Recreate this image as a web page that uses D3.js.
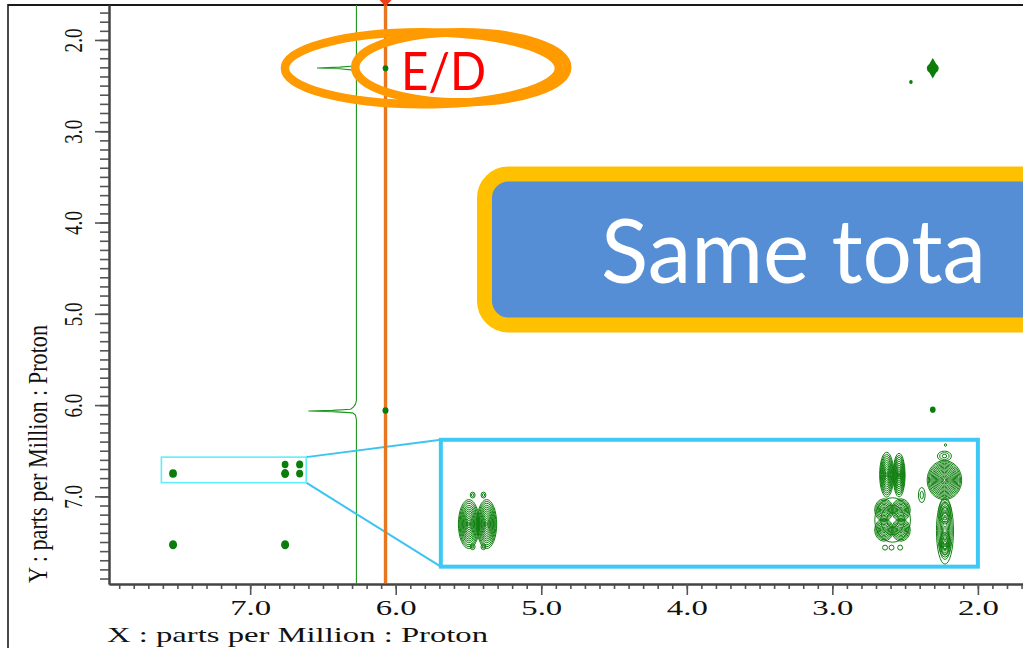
<!DOCTYPE html>
<html><head><meta charset="utf-8">
<script src="https://cdn.jsdelivr.net/npm/d3@7"></script>
<style>html,body{margin:0;padding:0;background:#fff;overflow:hidden}</style>
</head><body><svg id="c" width="1023" height="648"></svg>
<script>
// ---------------- data ----------------
const xDomain = [7.97, 1.69];          // ppm, left -> right
const yDomain = [1.617, 7.96];         // ppm, top -> bottom
const majorTicks = [7.0, 6.0, 5.0, 4.0, 3.0, 2.0];
const tickLabels = ["7.0", "6.0", "5.0", "4.0", "3.0", "2.0"];
const minorTicks = d3.range(17, 80).map(d => d / 10);
const xTitle = "X : parts per Million : Proton";
const yTitle = "Y : parts per Million : Proton";

// 2D peaks in main view: [x ppm, y ppm, intensity]
const mainPeaks = [
  [6.07, 2.31, 0.9], [6.07, 6.06, 1.0], [2.46, 2.46, 0.35], [2.31, 6.05, 0.9],
  [7.53, 6.75, 1.7], [6.76, 6.65, 1.3], [6.76, 6.75, 1.8], [6.66, 6.65, 1.4], [6.66, 6.75, 1.4],
  [7.53, 7.53, 1.8], [6.76, 7.53, 1.8]
];
const strongPeaks = [[2.31, 2.31, 4]];

// 1D projection trace: [y ppm, intensity]
const projection = [
  [1.617, 0], [2.20, 0], [2.26, 0.015], [2.285, 0.06], [2.298, 0.35], [2.307, 0.82],
  [2.316, 0.35], [2.33, 0.06], [2.36, 0.015], [2.42, 0],
  [5.95, 0], [5.99, 0.02], [6.02, 0.06], [6.045, 0.12], [6.058, 0.5], [6.065, 1.0],
  [6.072, 0.5], [6.085, 0.08], [6.11, 0.02], [6.16, 0], [7.96, 0]
];
const projectionBase = 6.27;           // ppm column of the projection baseline
const cursorPpm = 6.07;

// zoom region (source) and inset placement, in ppm
const zoomSrcX = [7.61, 6.615], zoomSrcY = [6.57, 6.85];
const insetX = [5.69, 2.0], insetY = [6.38, 7.77];

// contour lobes inside the zoom: [x ppm, y ppm, half-width ppm, half-height ppm, levels]
const lobes = [
  [7.558, 6.756, 0.0195, 0.054, 13], [7.525, 6.756, 0.0185, 0.054, 13],
  [7.551, 6.692, 0.0045, 0.0065, 2], [7.531, 6.692, 0.0045, 0.0065, 2],
  [7.551, 6.806, 0.0045, 0.0065, 2], [7.531, 6.806, 0.0045, 0.0065, 2],
  [6.784, 6.647, 0.013, 0.0495, 11], [6.761, 6.648, 0.0112, 0.048, 11],
  [6.773, 6.747, 0.0330, 0.0490, 3],
  [6.789, 6.725, 0.0172, 0.0248, 8], [6.7575, 6.725, 0.0172, 0.0248, 8],
  [6.789, 6.769, 0.0172, 0.0248, 8], [6.7575, 6.769, 0.0172, 0.0248, 8],
  [6.787, 6.808, 0.0046, 0.0055, 1], [6.775, 6.808, 0.0046, 0.0055, 1], [6.759, 6.808, 0.0046, 0.0055, 1],
  [6.719, 6.692, 0.0062, 0.0166, 2],
  [6.677, 6.659, 0.0320, 0.043, 15], [6.677, 6.606, 0.013, 0.011, 3],
  [6.676, 6.771, 0.0158, 0.0735, 7], [6.676, 6.729, 0.0115, 0.0270, 6], [6.676, 6.802, 0.0100, 0.0270, 6],
  [6.675, 6.5815, 0.002, 0.0028, 1]
];

const labelED = "E/D";
const calloutText = "Same tota";

// ---------------- drawing ----------------
const svg = d3.select("#c");
const plot = {left: 109, top: 5, right: 1023, bottom: 584};
const x = d3.scaleLinear().domain(xDomain).range([plot.left, plot.right]);
const y = d3.scaleLinear().domain(yDomain).range([plot.top, plot.bottom]);
const serif = "'Liberation Serif','Times New Roman',serif";
const sans = "Lato,'Open Sans',sans-serif";

// frame
svg.append("line").attr("x1", 8).attr("y1", 5).attr("x2", 1023).attr("y2", 5)
  .attr("stroke", "#1a1a1a").attr("stroke-width", 2);
svg.append("line").attr("x1", 8).attr("y1", 4).attr("x2", 8).attr("y2", 648)
  .attr("stroke", "#1a1a1a").attr("stroke-width", 1.6);

// x axis
const gx = svg.append("g").attr("transform", `translate(0,${plot.bottom})`);
gx.append("g").call(d3.axisBottom(x).tickValues(minorTicks).tickSize(5).tickSizeOuter(0).tickFormat(""));
gx.append("g").call(d3.axisBottom(x).tickValues(majorTicks).tickSize(11).tickSizeOuter(0)
  .tickFormat((d, i) => tickLabels[i]));
gx.selectAll(".tick line").attr("stroke", "#555").attr("stroke-width", 1.6);
gx.selectAll(".domain").attr("stroke", "#444").attr("stroke-width", 2);
gx.selectAll(".tick text").attr("y", 31).attr("dy", null)
  .attr("font-family", serif).attr("font-size", 21).attr("fill", "#111")
  .attr("textLength", 41).attr("lengthAdjust", "spacingAndGlyphs");

// y axis
const gy = svg.append("g").attr("transform", `translate(${plot.left},0)`);
gy.append("g").call(d3.axisLeft(y).tickValues(minorTicks).tickSize(9).tickSizeOuter(0).tickFormat(""));
gy.append("g").call(d3.axisLeft(y).tickValues(majorTicks).tickSize(14).tickSizeOuter(0)
  .tickFormat(d => d3.format(".1f")(d)));
gy.selectAll(".tick line").attr("stroke", "#555").attr("stroke-width", 1.6);
gy.selectAll(".domain").attr("stroke", "#444").attr("stroke-width", 2);
gy.selectAll(".tick text").attr("x", null).attr("dy", null)
  .attr("transform", "translate(-27.3,0) rotate(-90)").attr("text-anchor", "middle")
  .attr("font-family", serif).attr("font-size", 24.5).attr("fill", "#111")
  .attr("textLength", 24).attr("lengthAdjust", "spacingAndGlyphs");

// axis titles
svg.append("text").attr("x", 107).attr("y", 642).text(xTitle)
  .attr("font-family", serif).attr("font-size", 21).attr("fill", "#111")
  .attr("textLength", 381).attr("lengthAdjust", "spacingAndGlyphs");
svg.append("text").attr("transform", "translate(46.7,454) rotate(-90)").attr("text-anchor", "middle")
  .text(yTitle).attr("font-family", serif).attr("font-size", 27).attr("fill", "#111")
  .attr("textLength", 258).attr("lengthAdjust", "spacingAndGlyphs");

// projection trace
const pScale = d3.scaleLinear().domain([0, 1]).range([x(projectionBase), x(projectionBase + 0.33)]);
svg.append("path").datum(projection)
  .attr("d", d3.line().x(d => pScale(d[1])).y(d => y(d[0])))
  .attr("fill", "none").attr("stroke", "#1f961f").attr("stroke-width", 1.1);

// zoom connectors + source rect
const sx0 = x(zoomSrcX[0]), sx1 = x(zoomSrcX[1]), sy0 = y(zoomSrcY[0]), sy1 = y(zoomSrcY[1]);
const ix0 = x(insetX[0]), ix1 = x(insetX[1]), iy0 = y(insetY[0]), iy1 = y(insetY[1]);
svg.append("line").attr("x1", sx1).attr("y1", sy0).attr("x2", ix0).attr("y2", iy0)
  .attr("stroke", "#3cc4f0").attr("stroke-width", 2);
svg.append("line").attr("x1", sx1).attr("y1", sy1).attr("x2", ix0).attr("y2", iy1)
  .attr("stroke", "#3cc4f0").attr("stroke-width", 2);
svg.append("rect").attr("x", sx0).attr("y", sy0).attr("width", sx1 - sx0).attr("height", sy1 - sy0)
  .attr("fill", "none").attr("stroke", "#62eef6").attr("stroke-width", 1.6);

// cursor
svg.append("line").attr("x1", x(cursorPpm)).attr("x2", x(cursorPpm)).attr("y1", 0).attr("y2", plot.bottom - 1)
  .attr("stroke", "#e8771f").attr("stroke-width", 3.4);
svg.append("path").attr("transform", `translate(${x(cursorPpm)},0)`)
  .attr("d", "M-6,0L6,0L0,6.5Z").attr("fill", "#ee3f1c");

// main peaks
const rScale = d3.scaleSqrt().domain([0, 4]).range([0, 6]);
svg.append("g").selectAll("ellipse").data(mainPeaks).join("ellipse")
  .attr("cx", d => x(d[0])).attr("cy", d => y(d[1]))
  .attr("rx", d => rScale(d[2])).attr("ry", d => rScale(d[2]) * 1.1)
  .attr("fill", "#0a7d0a");
svg.append("g").selectAll("path").data(strongPeaks).join("path")
  .attr("transform", d => `translate(${x(d[0])},${y(d[1])})`)
  .attr("d", d => { const r = rScale(d[2]); return `M0,${-1.7*r}L${0.55*r},${-0.75*r}Q${r},${-0.4*r} ${r},0Q${r},${0.4*r} ${0.55*r},${0.75*r}L0,${1.7*r}L${-0.55*r},${0.75*r}Q${-r},${0.4*r} ${-r},0Q${-r},${-0.4*r} ${-0.55*r},${-0.75*r}Z`; })
  .attr("fill", "#0a7d0a");

// inset
const inset = svg.append("g");
inset.append("clipPath").attr("id", "ic").append("rect")
  .attr("x", ix0).attr("y", iy0).attr("width", ix1 - ix0).attr("height", iy1 - iy0);
inset.append("rect").attr("x", ix0).attr("y", iy0).attr("width", ix1 - ix0).attr("height", iy1 - iy0)
  .attr("fill", "#fff");
const zx = d3.scaleLinear().domain(zoomSrcX).range([ix0, ix1]);
const zy = d3.scaleLinear().domain(zoomSrcY).range([iy0, iy1]);
const rings = [];
lobes.forEach(l => { for (let k = 1; k <= l[4]; k++) rings.push({l, f: k / l[4]}); });
inset.append("g").attr("clip-path", "url(#ic)").selectAll("ellipse").data(rings).join("ellipse")
  .attr("cx", d => zx(d.l[0])).attr("cy", d => zy(d.l[1]))
  .attr("rx", d => Math.abs(zx(d.l[0] + d.l[2]) - zx(d.l[0])) * d.f)
  .attr("ry", d => Math.abs(zy(d.l[1] + d.l[3]) - zy(d.l[1])) * d.f)
  .attr("fill", "none").attr("stroke", "#0f800f").attr("stroke-width", 1);
inset.append("rect").attr("x", ix0).attr("y", iy0).attr("width", ix1 - ix0).attr("height", iy1 - iy0)
  .attr("fill", "none").attr("stroke", "#3ec8f5").attr("stroke-width", 4);

// annotations: orange rings + E/D
const ann = svg.append("g").attr("fill", "none").attr("stroke", "#ff9a00").attr("stroke-width", 8.5);
ann.append("ellipse").attr("cx", x(5.82)).attr("cy", y(2.31)).attr("rx", 137).attr("ry", 36);
ann.append("ellipse").attr("cx", x(5.55)).attr("cy", y(2.31) - 1).attr("rx", 106).attr("ry", 35);
svg.append("text").attr("x", 401).attr("y", 90).text(labelED)
  .attr("font-family", sans).attr("font-size", 52).attr("fill", "#ff0000")
  .attr("textLength", 85).attr("lengthAdjust", "spacingAndGlyphs");

// callout box
svg.append("rect").attr("x", 484.5).attr("y", 174).attr("width", 620).attr("height", 151).attr("rx", 24)
  .attr("fill", "#558ed5").attr("stroke", "#ffc000").attr("stroke-width", 15);
svg.append("text").attr("x", 601).attr("y", 283).text(calloutText)
  .attr("font-family", sans).attr("font-size", 89).attr("fill", "#fff")
  .attr("textLength", 385).attr("lengthAdjust", "spacingAndGlyphs");
</script></body></html>
